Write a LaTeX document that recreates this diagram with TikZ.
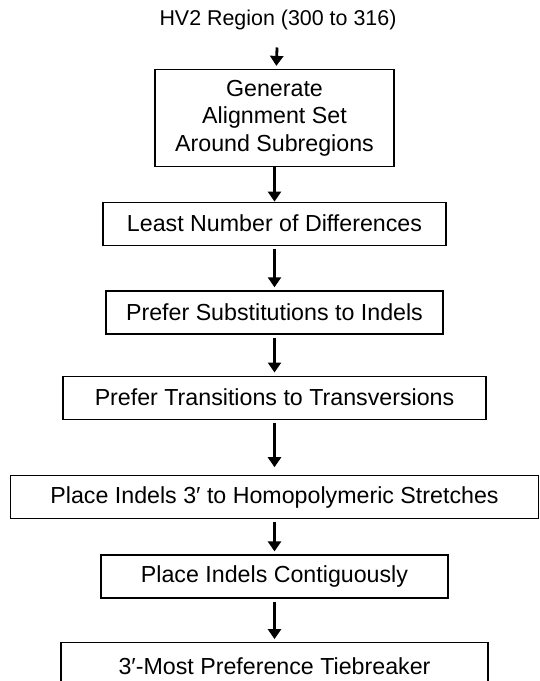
\documentclass[tikz,border=0pt]{standalone}
\usepackage{fontspec}
\setmainfont{Liberation Sans}
\usetikzlibrary{positioning, arrows.meta}

\begin{document}
\begin{tikzpicture}[x=1bp, y=1bp,
  stage/.style={rectangle, draw, line width=1.2bp, minimum height=43bp,
                inner sep=2bp, align=center,
                font=\fontsize{23.3}{27.5}\selectfont},
  line/.style={draw, line width=2.8bp, -{Triangle[length=10bp, width=13bp]},
               shorten <=3bp, shorten >=3bp},
  node distance=35bp
]
\useasboundingbox (0,0) rectangle (540,-681);
\clip (0,0) rectangle (540,-681);
% Nodes
\node[font=\fontsize{21.5}{26}\selectfont] (region) at (278,-20) {HV2 Region (300 to 316)};
\node[stage, minimum width=239bp, minimum height=97bp] (align) at (274.5,-118)
  {Generate\\Alignment Set\\Around Subregions};
\node[stage, minimum width=343bp, below=34.5bp of align] (diffs) {Least Number of Differences};
\node[stage, minimum width=337bp, below=44.5bp of diffs] (subst) {Prefer Substitutions to Indels};
\node[stage, minimum width=423bp, below=41bp of subst] (trans) {Prefer Transitions to Transversions};
\node[stage, minimum width=528bp, below=55.5bp of trans] (homo) {Place Indels 3′ to Homopolymeric Stretches};
\node[stage, minimum width=347bp, below=35bp of homo] (contig) {Place Indels Contiguously};
\node[stage, minimum width=427bp, minimum height=46bp, below=43.5bp of contig] (tie) {3′-Most Preference Tiebreaker};
% Edges
\path[line, shorten <=14bp] (region) -- (align);
\path[line, shorten <=0bp, shorten >=0bp] (align) -- (diffs);
\path[line] (diffs) -- (subst);
\path[line] (subst) -- (trans);
\path[line, shorten >=8bp] (trans) -- (homo);
\path[line] (homo) -- (contig);
\path[line] (contig) -- (tie);
\end{tikzpicture}
\end{document}
